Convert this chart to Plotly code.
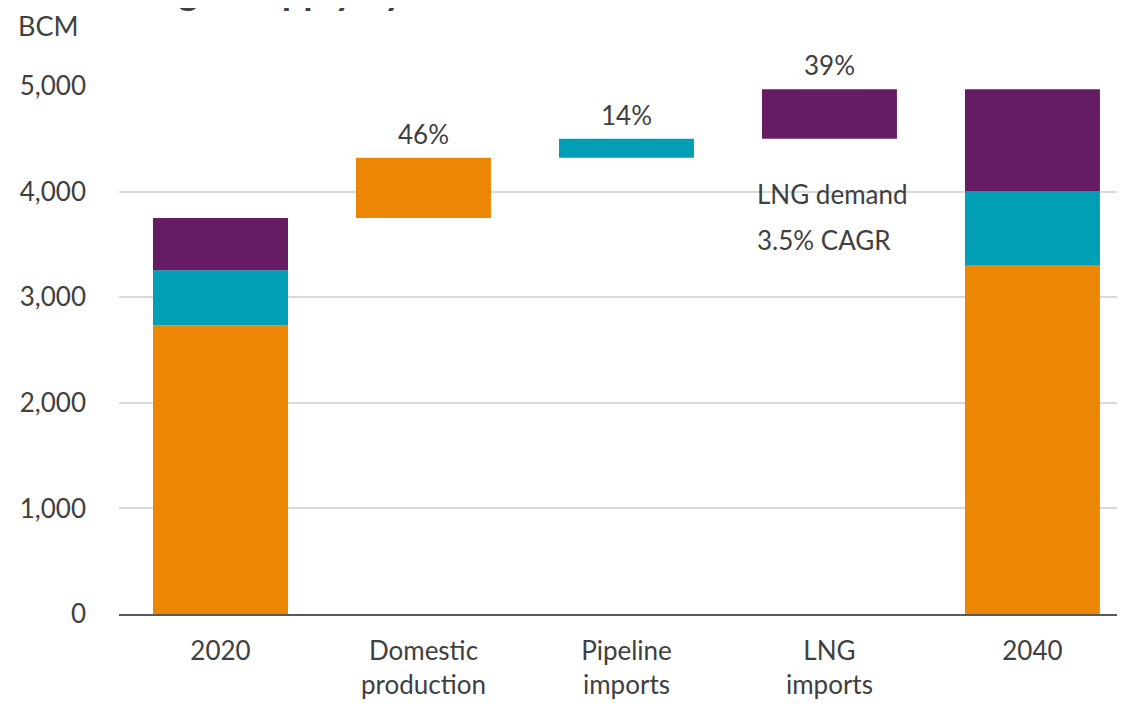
import plotly.graph_objects as go

categories = ["2020", "Domestic<br>production", "Pipeline<br>imports", "LNG<br>imports", "2040"]
series_names = ["Domestic production", "Pipeline imports", "LNG imports"]
start_2020 = [2735, 520, 495]        # orange, teal, purple
increments = [570, 180, 470]         # domestic, pipeline, LNG growth
end_2040 = [3305, 700, 965]
pct_labels = ["46%", "14%", "39%"]
y_ticks = [0, 1000, 2000, 3000, 4000, 5000]

colors = ["#EB8705", "#009FB5", "#651C62"]
text_color = "#404040"
font_family = "Lato, 'Open Sans', sans-serif"

fig = go.Figure()

total_2020 = sum(start_2020)
bases_inc = []
run = total_2020
for v in increments:
    bases_inc.append(run)
    run += v

for i in range(3):
    base_2020 = sum(start_2020[:i])
    base_2040 = sum(end_2040[:i])
    xs = [categories[0], categories[i + 1], categories[4]]
    ys = [start_2020[i], increments[i], end_2040[i]]
    bs = [base_2020, bases_inc[i], base_2040]
    fig.add_trace(go.Bar(
        x=xs, y=ys, base=bs, name=series_names[i],
        marker=dict(color=colors[i], line=dict(width=0)),
        width=0.665, showlegend=False, hoverinfo="skip",
    ))

annotations = []
for i in range(3):
    annotations.append(dict(
        x=categories[i + 1], y=bases_inc[i] + increments[i], xref="x", yref="y",
        text=pct_labels[i], showarrow=False, yanchor="bottom", yshift=6,
        font=dict(size=26, color=text_color, family=font_family),
    ))

annotations.append(dict(
    x=3, y=3977, xref="x", yref="y", text="LNG demand", showarrow=False,
    xanchor="left", yanchor="middle", xshift=-74,
    font=dict(size=26, color=text_color, family=font_family),
))
annotations.append(dict(
    x=3, y=3542, xref="x", yref="y", text="3.5% CAGR", showarrow=False,
    xanchor="left", yanchor="middle", xshift=-74,
    font=dict(size=26, color=text_color, family=font_family),
))
annotations.append(dict(
    x=0, y=1, xref="paper", yref="paper", text="BCM", showarrow=False,
    xanchor="left", yanchor="middle", xshift=-103, yshift=61,
    font=dict(size=27, color=text_color, family=font_family),
))
annotations.append(dict(
    x=0, y=1, xref="paper", yref="paper", text="<b>Natural gas supply by source</b>",
    showarrow=False, xanchor="left", yanchor="bottom", xshift=-78, yshift=71,
    font=dict(size=38, color=text_color, family=font_family),
))

fig.update_layout(
    width=1125, height=707,
    margin=dict(l=111, r=8, t=78, b=101),
    barmode="overlay",
    paper_bgcolor="white", plot_bgcolor="white",
    font=dict(family=font_family, color=text_color, size=24),
    annotations=annotations,
    xaxis=dict(
        type="category", categoryorder="array", categoryarray=categories,
        range=[-0.5, 4.456], showgrid=False, showline=True,
        linecolor="#595959", linewidth=2, ticks="", ticklabelstandoff=13,
        tickfont=dict(size=26, color=text_color, family=font_family),
    ),
    yaxis=dict(
        range=[0, 5000], tickvals=y_ticks, tickformat=",",
        showgrid=True, gridcolor="#D9D9D9", gridwidth=1.5,
        zeroline=False, showline=False, ticks="", ticklabelstandoff=32,
        tickfont=dict(size=26, color=text_color, family=font_family),
    ),
)

fig.write_html("out.html")
